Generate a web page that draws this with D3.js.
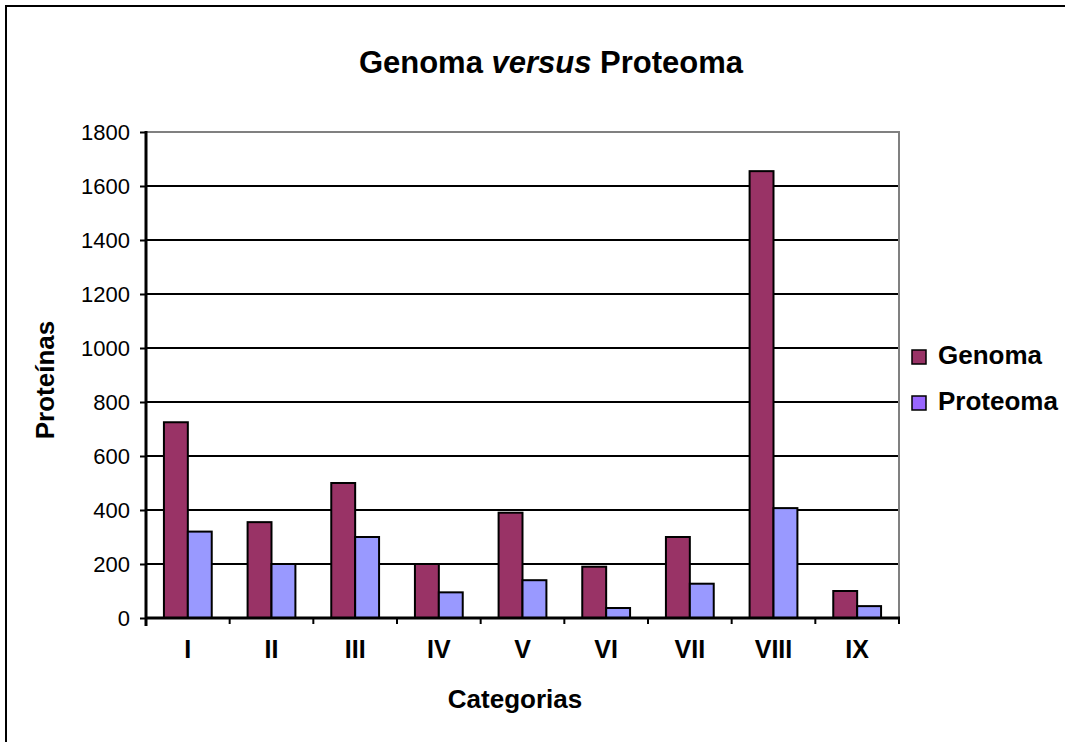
<!DOCTYPE html>
<html>
<head>
<meta charset="utf-8">
<script src="https://cdn.jsdelivr.net/npm/d3@7"></script>
<style>
  body { margin: 0; background: #fff; }
  svg { display: block; font-family: "Liberation Sans", Arial, sans-serif; }
</style>
</head>
<body>
<svg id="chart" width="1065" height="742"></svg>
<script>
const categories = ['I', 'II', 'III', 'IV', 'V', 'VI', 'VII', 'VIII', 'IX']
const series = ['Genoma', 'Proteoma']
const genoma = [725, 355, 500, 200, 390, 190, 300, 1655, 100]
const proteoma = [320, 200, 300, 95, 140, 37, 127, 407, 44]
const yTicks = [0, 200, 400, 600, 800, 1000, 1200, 1400, 1600, 1800]

const barColor = { Genoma: '#993366', Proteoma: '#9999ff' }
const legendColor = { Genoma: '#993366', Proteoma: '#9966ff' }

let width = 1065
let height = 742
let margin = { top: 132, right: 166, bottom: 124, left: 146 }
let plotW = width - margin.left - margin.right
let plotH = height - margin.top - margin.bottom

let data = categories.map((c, i) => ({ cat: c, Genoma: genoma[i], Proteoma: proteoma[i] }))

let svg = d3.select('#chart')

// outer frame
svg.append('rect')
  .attr('x', 6).attr('y', 6)
  .attr('width', width + 10).attr('height', height + 10)
  .attr('fill', 'none').attr('stroke', '#000').attr('stroke-width', 2)

svg.append('text')
  .attr('x', 551).attr('y', 73)
  .attr('text-anchor', 'middle')
  .style('font-size', '31px').style('font-weight', 'bold')
  .call(t => {
    t.append('tspan').text('Genoma ')
    t.append('tspan').style('font-style', 'italic').text('versus')
    t.append('tspan').text(' Proteoma')
  })

let g = svg.append('g').attr('transform', `translate(${margin.left},${margin.top})`)

let x0 = d3.scaleBand().domain(categories).range([0, plotW]).padding(0)
let x1 = d3.scaleBand().domain(series).range([0, x0.bandwidth()]).paddingInner(0).paddingOuter(0.75)
let y = d3.scaleLinear().domain([0, 1800]).range([plotH, 0])

// gridlines
g.append('g')
  .selectAll('line')
  .data(yTicks.filter(d => d > 0 && d < 1800))
  .join('line')
  .attr('x1', 0).attr('x2', plotW)
  .attr('y1', d => y(d)).attr('y2', d => y(d))
  .attr('stroke', '#000').attr('stroke-width', 2)
  .attr('shape-rendering', 'crispEdges')

// plot area top/right border
g.append('path')
  .attr('d', `M0,${y(1800)}H${plotW}V${plotH}`)
  .attr('fill', 'none').attr('stroke', '#808080').attr('stroke-width', 2)
  .attr('shape-rendering', 'crispEdges')

// bars
g.append('g')
  .selectAll('g')
  .data(data)
  .join('g')
  .attr('transform', d => `translate(${x0(d.cat)},0)`)
  .selectAll('rect')
  .data(d => series.map(s => ({ key: s, value: d[s] })))
  .join('rect')
  .attr('x', d => x1(d.key))
  .attr('y', d => y(d.value))
  .attr('width', x1.bandwidth())
  .attr('height', d => y(0) - y(d.value))
  .attr('fill', d => barColor[d.key])
  .attr('stroke', '#000').attr('stroke-width', 2)

// y axis
let yAxis = g.append('g')
  .call(d3.axisLeft(y).tickValues(yTicks).tickSize(6).tickPadding(10).tickFormat(d3.format('d')))
yAxis.select('.domain').remove()
yAxis.selectAll('.tick line').attr('stroke', '#000').attr('stroke-width', 2)
yAxis.selectAll('.tick text').style('font-size', '22px').style('font-family', 'Liberation Sans, Arial, sans-serif').attr('fill', '#000')
g.append('line')
  .attr('x1', 0).attr('x2', 0).attr('y1', y(1800) - 1).attr('y2', plotH + 8)
  .attr('stroke', '#000').attr('stroke-width', 3)

// x axis
g.append('line')
  .attr('x1', 0).attr('x2', plotW + 1).attr('y1', plotH).attr('y2', plotH)
  .attr('stroke', '#000').attr('stroke-width', 3)
g.append('g')
  .selectAll('line')
  .data(d3.range(categories.length + 1))
  .join('line')
  .attr('x1', i => i * x0.step()).attr('x2', i => i * x0.step())
  .attr('y1', plotH).attr('y2', plotH + 6)
  .attr('stroke', '#000').attr('stroke-width', 2)
g.append('g')
  .selectAll('text')
  .data(categories)
  .join('text')
  .attr('x', d => x0(d) + x0.bandwidth() / 2)
  .attr('y', plotH + 40)
  .attr('text-anchor', 'middle')
  .style('font-size', '25px').style('font-weight', 'bold')
  .text(d => d)

// axis titles
svg.append('text')
  .attr('x', 515).attr('y', 708)
  .attr('text-anchor', 'middle')
  .style('font-size', '26px').style('font-weight', 'bold')
  .text('Categorias')
svg.append('text')
  .attr('transform', 'translate(54,380) rotate(-90)')
  .attr('text-anchor', 'middle')
  .style('font-size', '26px').style('font-weight', 'bold')
  .text('Proteínas')

// legend
let legend = svg.append('g')
  .selectAll('g')
  .data(series)
  .join('g')
  .attr('transform', (d, i) => `translate(912,${350 + i * 46})`)
legend.append('rect')
  .attr('width', 14).attr('height', 14)
  .attr('fill', d => legendColor[d])
  .attr('stroke', '#000').attr('stroke-width', 1.5)
legend.append('text')
  .attr('x', 26).attr('y', 14)
  .style('font-size', '26px').style('font-weight', 'bold')
  .text(d => d)
</script>
</body>
</html>
